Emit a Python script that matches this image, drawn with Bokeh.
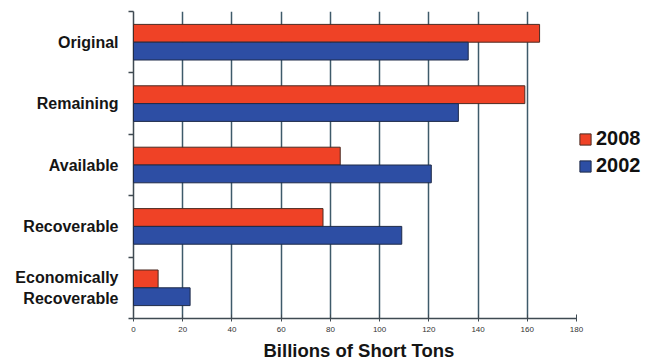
from bokeh.plotting import figure
from bokeh.models import ColumnDataSource, FixedTicker, Range1d, Legend, LegendItem, Title
from bokeh.embed import file_html
from bokeh.resources import INLINE

# Coal resource categories (top to bottom) and amounts, billions of short tons
categories = ["Original", "Remaining", "Available", "Recoverable", "Economically\nRecoverable"]
tons_2008 = [165, 159, 84, 77, 10]
tons_2002 = [136, 132, 121, 109, 23]
x_ticks = [0, 20, 40, 60, 80, 100, 120, 140, 160, 180]
series_names = ["2008", "2002"]
x_title = "Billions of Short Tons"

RED = "#ef4226"
BLUE = "#2d4ea4"
FONT = "Liberation Sans"
BAR_H = 0.29

n = len(categories)
centers = [n - i - 0.5 for i in range(n)]
boundaries = list(range(n + 1))

# the frame runs to the right edge so the legend can sit beside the axis;
# the axis itself is bounded to 0..180
AXIS_MAX = x_ticks[-1]
X_END = AXIS_MAX * (652 - 133) / (576 - 133)

src = ColumnDataSource(dict(
    y08=[c + BAR_H / 2 for c in centers],
    y02=[c - BAR_H / 2 for c in centers],
    v08=tons_2008,
    v02=tons_2002,
))

p = figure(
    width=652, height=364,
    output_backend="svg", toolbar_location=None,
    x_range=Range1d(0, X_END), y_range=Range1d(0, n),
    min_border_left=133, min_border_right=0,
    min_border_top=11, min_border_bottom=45,
)
p.outline_line_color = None
p.background_fill_color = "white"
p.border_fill_color = "white"

r08 = p.hbar(y="y08", left=0, right="v08", height=BAR_H, source=src,
             fill_color=RED, line_color="#4a2a22", line_width=1)
r02 = p.hbar(y="y02", left=0, right="v02", height=BAR_H, source=src,
             fill_color=BLUE, line_color="#1e2a48", line_width=1)

# x axis
p.xaxis.bounds = (0, AXIS_MAX)
p.xaxis.ticker = FixedTicker(ticks=x_ticks)
p.xaxis.axis_line_color = "#3f4a52"
p.xaxis.axis_line_width = 1.5
p.xaxis.major_tick_line_color = "#3f4a52"
p.xaxis.major_tick_in = 4
p.xaxis.major_tick_out = 3
p.xaxis.minor_tick_line_color = None
p.xaxis.major_label_text_font = FONT
p.xaxis.major_label_text_font_size = "8px"
p.xaxis.major_label_text_color = "#333333"
p.xaxis.major_label_standoff = 5

# axis title, centred under the 0..180 span
p.add_layout(Title(
    text=x_title, align="left", offset=130, standoff=7,
    text_font=FONT, text_font_style="bold", text_font_size="18.5px",
    text_color="#151515",
), "below")

# y axis: labels at category centres, ticks at category boundaries
p.yaxis.ticker = FixedTicker(ticks=centers, minor_ticks=boundaries)
p.yaxis.major_label_overrides = {c: lab for c, lab in zip(centers, categories)}
p.yaxis.major_tick_line_color = None
p.yaxis.minor_tick_line_color = "#3f4a52"
p.yaxis.minor_tick_line_width = 1.5
p.yaxis.minor_tick_in = 0
p.yaxis.minor_tick_out = 5
p.yaxis.axis_line_color = "#3f4a52"
p.yaxis.axis_line_width = 1.5
p.yaxis.major_label_text_font = FONT
p.yaxis.major_label_text_font_style = "bold"
p.yaxis.major_label_text_font_size = "16px"
p.yaxis.major_label_text_color = "#151515"
p.yaxis.major_label_standoff = 9

# vertical grid lines only, none at the axis or the right end
p.ygrid.grid_line_color = None
p.xgrid.ticker = FixedTicker(ticks=x_ticks[1:-1])
p.xgrid.grid_line_color = "#3e5a6a"
p.xgrid.grid_line_width = 1.5
p.xgrid.level = "glyph"
r08.level = "overlay"
r02.level = "overlay"

legend = Legend(
    items=[LegendItem(label=series_names[0], renderers=[r08]),
           LegendItem(label=series_names[1], renderers=[r02])],
    location=(445, 141),
    glyph_width=14, glyph_height=14,
    label_text_font=FONT, label_text_font_style="bold",
    label_text_font_size="20px", label_text_color="#111111",
    label_standoff=4, spacing=4, padding=0, margin=0,
    border_line_color=None, background_fill_alpha=0,
)
p.add_layout(legend)

open("out.html", "w").write(file_html(p, INLINE))
